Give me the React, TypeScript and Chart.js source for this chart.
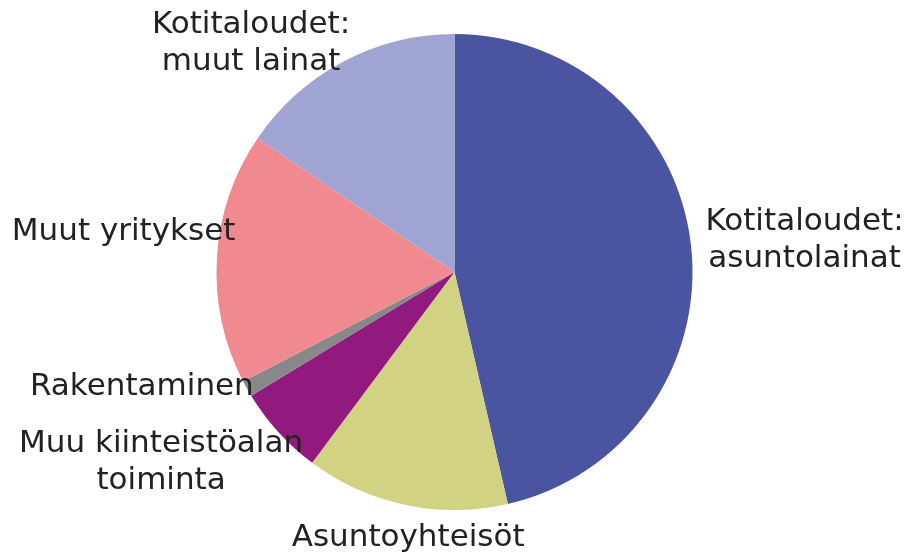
import React, { useEffect, useRef } from "react";
import { Chart, registerables } from "chart.js";

Chart.register(...registerables);

const categories: string[][] = [
  ["Kotitaloudet:", "asuntolainat"],
  ["Asuntoyhteisöt"],
  ["Muu kiinteistöalan", "toiminta"],
  ["Rakentaminen"],
  ["Muut yritykset"],
  ["Kotitaloudet:", "muut lainat"],
];
const shares: number[] = [46.4, 13.8, 6.1, 1.1, 17.1, 15.5];
const colors: string[] = ["#4B54A1", "#D2D283", "#921A7E", "#888888", "#F08A90", "#A0A4D3"];

// label layout: distance from centre in radii, angular nudge (degrees) from slice middle
const labelLayout = [
  { dist: 1.477, shift: 1.3 },
  { dist: 1.134, shift: -2.0 },
  { dist: 1.47, shift: 9.3 },
  { dist: 1.4, shift: 9.1 },
  { dist: 1.4, shift: 3.4 },
  { dist: 1.285, shift: -13.8 },
];

const labelPlugin = {
  id: "outerLabels",
  afterDatasetsDraw(chart: any) {
    const ctx = chart.ctx;
    const meta = chart.getDatasetMeta(0);
    ctx.save();
    ctx.font = '31px "DejaVu Sans"';
    ctx.fillStyle = "#222222";
    ctx.textAlign = "center";
    ctx.textBaseline = "middle";
    const lineH = 37;
    meta.data.forEach((arc: any, i: number) => {
      const p = arc.getProps(["x", "y", "startAngle", "endAngle", "outerRadius"], true);
      const lay = labelLayout[i];
      const mid = (p.startAngle + p.endAngle) / 2 + (lay.shift * Math.PI) / 180;
      const cx = p.x + Math.cos(mid) * p.outerRadius * lay.dist;
      const cy = p.y + Math.sin(mid) * p.outerRadius * lay.dist;
      const lines = categories[i];
      const y0 = cy - ((lines.length - 1) * lineH) / 2;
      lines.forEach((ln, j) => ctx.fillText(ln, cx, y0 + j * lineH));
    });
    ctx.restore();
  },
};

export default function App() {
  const ref = useRef<HTMLCanvasElement>(null);
  useEffect(() => {
    if (!ref.current) return;
    const chart = new Chart(ref.current, {
      type: "pie",
      data: {
        labels: categories.map((c) => c.join(" ")),
        datasets: [
          {
            data: shares,
            backgroundColor: colors,
            borderWidth: 0,
          },
        ],
      },
      options: {
        animation: false,
        responsive: false,
        layout: { padding: { top: 34, bottom: 48, left: 0, right: 0 } },
        plugins: {
          legend: { display: false },
          tooltip: { enabled: false },
        },
      },
      plugins: [labelPlugin],
    });
    return () => chart.destroy();
  }, []);
  return (
    <div style={{ position: "fixed", left: 0, top: 0, width: 909, height: 558, background: "#ffffff" }}>
      <canvas ref={ref} width={909} height={558} />
    </div>
  );
}
